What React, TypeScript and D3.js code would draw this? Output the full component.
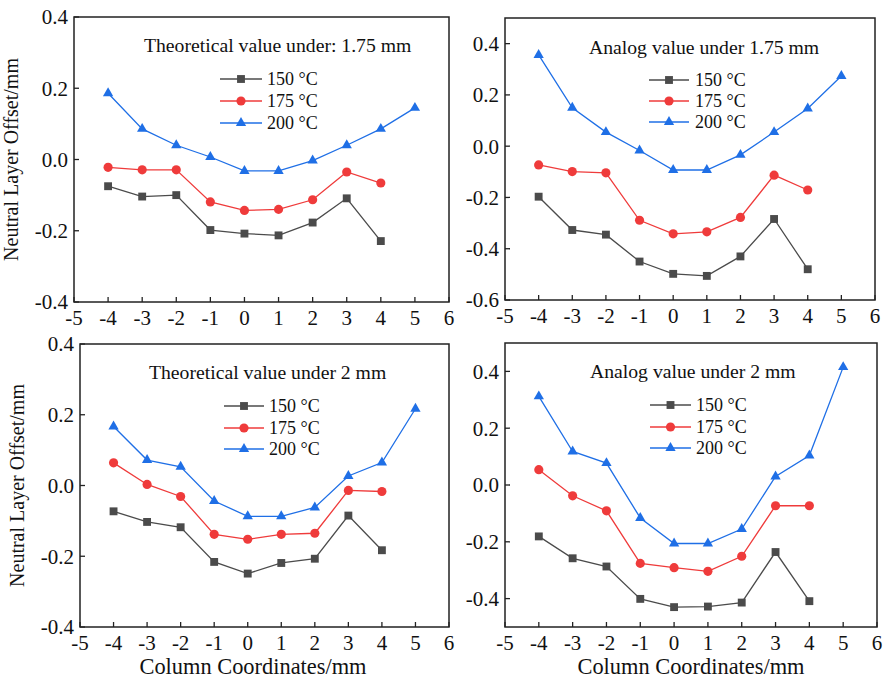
import React from "react";
import * as d3 from "d3";

// column coordinates (x)
const columns = [-4, -3, -2, -1, 0, 1, 2, 3, 4, 5];
const xTicks = [-5, -4, -3, -2, -1, 0, 1, 2, 3, 4, 5, 6];
const seriesNames = ["150 °C", "175 °C", "200 °C"];

// theoretical, 1.75 mm
const theo175_150 = [-0.075, -0.104, -0.1, -0.198, -0.208, -0.213, -0.177, -0.109, -0.229];
const theo175_175 = [-0.022, -0.029, -0.029, -0.119, -0.143, -0.14, -0.113, -0.035, -0.066];
const theo175_200 = [0.186, 0.086, 0.04, 0.007, -0.032, -0.032, -0.003, 0.04, 0.086, 0.145];

// analog, 1.75 mm
const ana175_150 = [-0.197, -0.327, -0.345, -0.45, -0.498, -0.506, -0.43, -0.284, -0.48];
const ana175_175 = [-0.073, -0.099, -0.104, -0.289, -0.342, -0.334, -0.278, -0.113, -0.171];
const ana175_200 = [0.356, 0.15, 0.055, -0.017, -0.093, -0.093, -0.034, 0.055, 0.147, 0.274];

// theoretical, 2 mm
const theo2_150 = [-0.073, -0.103, -0.118, -0.216, -0.249, -0.219, -0.207, -0.085, -0.183];
const theo2_175 = [0.064, 0.003, -0.031, -0.138, -0.152, -0.138, -0.135, -0.014, -0.017];
const theo2_200 = [0.167, 0.072, 0.053, -0.044, -0.087, -0.087, -0.062, 0.027, 0.065, 0.217];

// analog, 2 mm
const ana2_150 = [-0.181, -0.258, -0.287, -0.401, -0.43, -0.428, -0.414, -0.236, -0.409];
const ana2_175 = [0.054, -0.038, -0.091, -0.276, -0.291, -0.304, -0.251, -0.073, -0.073];
const ana2_200 = [0.312, 0.118, 0.077, -0.116, -0.206, -0.206, -0.155, 0.03, 0.104, 0.415];

const colors = ["#4b4b4b", "#ef3b3b", "#1f6fe6"];
const symbols = [d3.symbolSquare, d3.symbolCircle, d3.symbolTriangle];
const symSizes = [62, 66, 46];
const FONT = "'Liberation Serif', 'Times New Roman', serif";

type PanelCfg = {
  box: [number, number, number, number]; // left, top, right, bottom
  yDomain: [number, number];
  yTicks: number[];
  series: number[][];
  title: string;
  titlePos: [number, number];
  legend: { x0: number; x1: number; tx: number; ys: number[] };
  yLabel?: boolean;
  xLabelX?: number;
};

const panels: PanelCfg[] = [
  {
    box: [74, 17, 449, 302],
    yDomain: [-0.4, 0.4],
    yTicks: [-0.4, -0.2, 0, 0.2, 0.4],
    series: [theo175_150, theo175_175, theo175_200],
    title: "Theoretical value under: 1.75 mm",
    titlePos: [144, 52],
    legend: { x0: 220, x1: 262, tx: 267, ys: [79, 101, 123] },
    yLabel: true,
  },
  {
    box: [505, 18, 875, 300],
    yDomain: [-0.6, 0.5],
    yTicks: [-0.6, -0.4, -0.2, 0, 0.2, 0.4],
    series: [ana175_150, ana175_175, ana175_200],
    title: "Analog value under 1.75 mm",
    titlePos: [589, 54],
    legend: { x0: 649, x1: 689, tx: 695, ys: [80, 101, 122] },
  },
  {
    box: [80, 344, 449, 627],
    yDomain: [-0.4, 0.4],
    yTicks: [-0.4, -0.2, 0, 0.2, 0.4],
    series: [theo2_150, theo2_175, theo2_200],
    title: "Theoretical value under 2 mm",
    titlePos: [149, 379],
    legend: { x0: 224, x1: 264, tx: 269, ys: [406, 428, 449] },
    yLabel: true,
    xLabelX: 253,
  },
  {
    box: [505, 343, 877, 627],
    yDomain: [-0.5, 0.5],
    yTicks: [-0.4, -0.2, 0, 0.2, 0.4],
    series: [ana2_150, ana2_175, ana2_200],
    title: "Analog value under 2 mm",
    titlePos: [590, 378],
    legend: { x0: 650, x1: 691, tx: 696, ys: [405, 427, 448] },
    xLabelX: 691,
  },
];

const Panel = ({ cfg }: { cfg: PanelCfg }) => {
  const [l, t, r, b] = cfg.box;
  const x = d3.scaleLinear().domain([-5, 6]).range([l, r]);
  const y = d3.scaleLinear().domain(cfg.yDomain).range([b, t]);
  const line = d3
    .line<number>()
    .x((_, i) => x(columns[i]))
    .y((d) => y(d));
  const fmt = d3.format(".1f");
  const ts = { fontFamily: FONT, fill: "#111" };

  return (
    <g>
      {cfg.series.map((s, si) => (
        <g key={si}>
          <path d={line(s) ?? ""} fill="none" stroke={colors[si]} strokeWidth={1.3} />
          {s.map((v, i) => (
            <path
              key={i}
              transform={`translate(${x(columns[i])},${y(v)})`}
              d={d3.symbol(symbols[si], symSizes[si])() ?? ""}
              fill={colors[si]}
            />
          ))}
        </g>
      ))}
      <rect x={l} y={t} width={r - l} height={b - t} fill="none" stroke="#222" strokeWidth={1.5} />
      {xTicks.map((v) => (
        <g key={v}>
          <line x1={x(v)} x2={x(v)} y1={b} y2={b - 5} stroke="#222" strokeWidth={1.3} />
          <text x={x(v)} y={b + 23} textAnchor="middle" fontSize={21} style={ts}>
            {String(v)}
          </text>
        </g>
      ))}
      {cfg.yTicks.map((v) => (
        <g key={v}>
          <line x1={l} x2={l + 5} y1={y(v)} y2={y(v)} stroke="#222" strokeWidth={1.3} />
          <text x={l - 6} y={y(v)} dy="0.35em" textAnchor="end" fontSize={21} style={ts}>
            {fmt(v).replace("−", "-")}
          </text>
        </g>
      ))}
      <text x={cfg.titlePos[0]} y={cfg.titlePos[1]} fontSize={19.7} style={ts}>
        {cfg.title}
      </text>
      {seriesNames.map((n, si) => {
        const ly = cfg.legend.ys[si];
        const mx = (cfg.legend.x0 + cfg.legend.x1) / 2;
        return (
          <g key={n}>
            <line x1={cfg.legend.x0} x2={cfg.legend.x1} y1={ly} y2={ly} stroke={colors[si]} strokeWidth={1.3} />
            <path transform={`translate(${mx},${ly})`} d={d3.symbol(symbols[si], symSizes[si])() ?? ""} fill={colors[si]} />
            <text x={cfg.legend.tx} y={ly} dy="0.35em" fontSize={18} style={ts}>
              {n}
            </text>
          </g>
        );
      })}
      {cfg.yLabel && (
        <text
          transform={`translate(${l - 56},${(t + b) / 2}) rotate(-90)`}
          textAnchor="middle"
          fontSize={20}
          style={ts}
        >
          Neutral Layer Offset/mm
        </text>
      )}
      {cfg.xLabelX !== undefined && (
        <text x={cfg.xLabelX} y={674} textAnchor="middle" fontSize={22.4} style={ts}>
          Column Coordinates/mm
        </text>
      )}
    </g>
  );
};

export default function App() {
  return (
    <svg
      width={883}
      height={684}
      style={{ position: "absolute", left: 0, top: 0, background: "#fff", fontFamily: FONT }}
    >
      {panels.map((p, i) => (
        <Panel key={i} cfg={p} />
      ))}
    </svg>
  );
}
